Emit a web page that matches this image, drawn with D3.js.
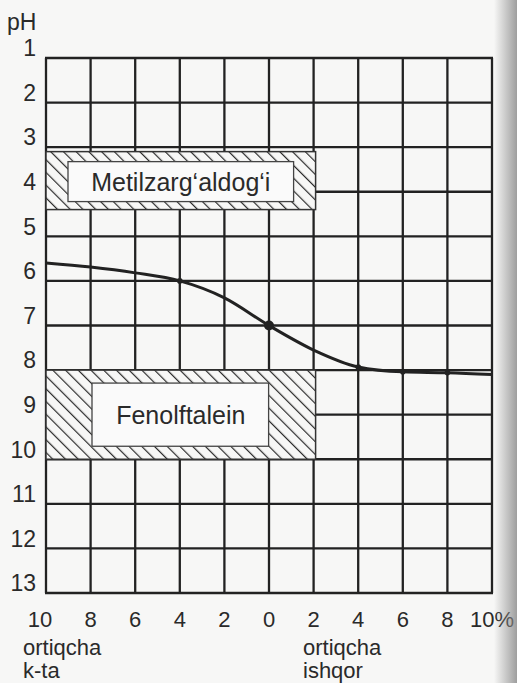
<!DOCTYPE html>
<html>
<head>
<meta charset="utf-8">
<script src="https://cdn.jsdelivr.net/npm/d3@7"></script>
<style>
  body { margin: 0; background: #f7f7f6; }
  svg { display: block; }
  text { font-family: "Liberation Sans", Arial, sans-serif; fill: #2a2a2a; }
</style>
</head>
<body>
<div id="chart"></div>
<script>
// Excess of acid (negative) / alkali (positive), % and the pH
var excess = [-10, -8, -6, -4, -2, 0, 2, 4, 6, 8, 10];
var pHValues = [5.6, 5.69, 5.82, 6.0, 6.38, 7.0, 7.55, 7.93, 8.04, 8.06, 8.1];
var dotExcess = [-4, 0, 4, 6, 8];

var xTicks = [-10, -8, -6, -4, -2, 0, 2, 4, 6, 8, 10];
var yTicks = [1, 2, 3, 4, 5, 6, 7, 8, 9, 10, 11, 12, 13];

// Indicator colour-change ranges
var indicators = [
    { name: "Metilzarg\u2018aldog\u2018i", pH: [3.1, 4.4], excess: [-10, 2] },
    { name: "Fenolftalein", pH: [8.0, 10.0], excess: [-10, 2] }
];

var W = 517, H = 683;
var svg = d3.select("#chart").append("svg")
    .attr("width", W).attr("height", H);

var x = d3.scaleLinear().domain([-10, 10]).range([46, 492]);
var y = d3.scaleLinear().domain([1, 13]).range([58, 593]);

// hatch pattern "\\\\"
var defs = svg.append("defs");
defs.append("pattern")
    .attr("id", "hatch")
    .attr("patternUnits", "userSpaceOnUse")
    .attr("width", 9).attr("height", 9)
    .attr("patternTransform", "rotate(-45)")
    .append("line")
    .attr("x1", 0).attr("y1", 0).attr("x2", 0).attr("y2", 9)
    .attr("stroke", "#2a2a2a").attr("stroke-width", 2.4);

var shade = defs.append("linearGradient").attr("id", "shade")
    .attr("x1", "0%").attr("x2", "100%");
shade.append("stop").attr("offset", "0%").attr("stop-color", "#888").attr("stop-opacity", 0);
shade.append("stop").attr("offset", "100%").attr("stop-color", "#888").attr("stop-opacity", 0.8);

// grid
var grid = svg.append("g").attr("stroke", "#222").attr("stroke-width", 2.3);
grid.selectAll("line.v").data(xTicks).enter().append("line")
    .attr("x1", d => x(d)).attr("x2", d => x(d))
    .attr("y1", y(1)).attr("y2", y(13));
grid.selectAll("line.h").data(yTicks).enter().append("line")
    .attr("x1", x(-10) - 1).attr("x2", x(10) + 1)
    .attr("y1", d => y(d)).attr("y2", d => y(d));

// indicator boxes
var insets = [{ l: 22, r: 22, t: 10, b: 8 }, { l: 46, r: 47, t: 13, b: 13 }];
var boxes = svg.selectAll("g.box").data(indicators).enter().append("g");
boxes.append("rect")
    .attr("x", d => x(d.excess[0]))
    .attr("y", d => y(d.pH[0]))
    .attr("width", d => x(d.excess[1]) + 2 - x(d.excess[0]))
    .attr("height", d => y(d.pH[1]) - y(d.pH[0]))
    .attr("fill", "#f7f7f6");
boxes.append("rect")
    .attr("x", d => x(d.excess[0]))
    .attr("y", d => y(d.pH[0]))
    .attr("width", d => x(d.excess[1]) + 2 - x(d.excess[0]))
    .attr("height", d => y(d.pH[1]) - y(d.pH[0]))
    .attr("fill", "url(#hatch)")
    .attr("stroke", "#333").attr("stroke-width", 1.5);
boxes.append("rect")
    .attr("x", (d, i) => x(d.excess[0]) + insets[i].l)
    .attr("y", (d, i) => y(d.pH[0]) + insets[i].t)
    .attr("width", (d, i) => x(d.excess[1]) + 2 - x(d.excess[0]) - insets[i].l - insets[i].r)
    .attr("height", (d, i) => y(d.pH[1]) - y(d.pH[0]) - insets[i].t - insets[i].b)
    .attr("fill", "#fafafa")
    .attr("stroke", "#444").attr("stroke-width", 1.3);
boxes.append("text")
    .attr("x", d => (x(d.excess[0]) + x(d.excess[1])) / 2 + 1)
    .attr("y", (d, i) => (y(d.pH[0]) + insets[i].t + y(d.pH[1]) - insets[i].b) / 2)
    .attr("dy", "0.36em")
    .attr("text-anchor", "middle")
    .style("font-size", "25px")
    .text(d => d.name);

// titration curve
var line = d3.line()
    .x(d => x(d[0]))
    .y(d => y(d[1]))
    .curve(d3.curveMonotoneX);
svg.append("path")
    .datum(excess.map((e, i) => [e, pHValues[i]]))
    .attr("d", line)
    .attr("fill", "none")
    .attr("stroke", "#222")
    .attr("stroke-width", 3);

svg.selectAll("circle.dot").data(dotExcess).enter().append("circle")
    .attr("cx", d => x(d))
    .attr("cy", d => y(pHValues[excess.indexOf(d)]))
    .attr("r", d => d === 0 ? 5 : 2.8)
    .attr("fill", "#222");

// y labels
svg.append("text").attr("x", 7).attr("y", 30)
    .style("font-size", "23px").text("pH");
svg.selectAll("text.yl").data(yTicks).enter().append("text")
    .attr("x", 36)
    .attr("y", d => y(d) - 10)
    .attr("dy", "0.36em")
    .attr("text-anchor", "end")
    .style("font-size", "23px")
    .text(d => d);

// x labels
svg.selectAll("text.xl").data(xTicks).enter().append("text")
    .attr("x", d => x(d))
    .attr("y", 627)
    .attr("text-anchor", d => d === 10 ? "start" : "middle")
    .attr("dx", d => d === 10 ? -22 : (d === -10 ? -6 : 0))
    .style("font-size", "22px")
    .text(d => Math.abs(d) + (d === 10 ? "%" : ""));

var notes = [
    { x: 23, lines: ["ortiqcha", "k-ta"] },
    { x: 303, lines: ["ortiqcha", "ishqor"] }
];
notes.forEach(function (n) {
    n.lines.forEach(function (t, j) {
        svg.append("text").attr("x", n.x).attr("y", 655 + j * 22.5)
            .style("font-size", "22px").text(t);
    });
});

// scan shadow on the right edge
svg.append("rect").attr("x", 494).attr("y", 0).attr("width", 23).attr("height", H)
    .attr("fill", "url(#shade)");
</script>
</body>
</html>
